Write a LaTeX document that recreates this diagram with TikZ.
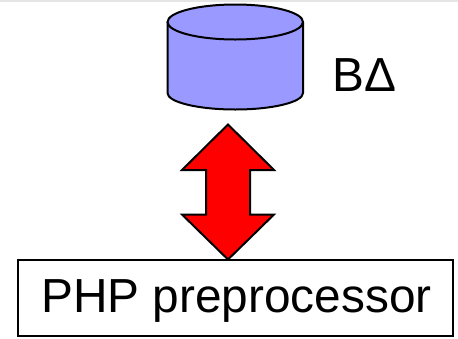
\documentclass[tikz,border=0pt]{standalone}
\usepackage{fontspec}
\setmainfont{Liberation Sans}
\usetikzlibrary{positioning}
\tikzstyle{box}=[draw=black,line width=2pt,fill=white,minimum width=435pt,minimum height=76pt,inner sep=0pt]
\tikzstyle{label}=[inner sep=0pt,font=\fontsize{47.8pt}{48pt}\selectfont]
\tikzstyle{drum}=[draw=black,line width=2pt,fill={rgb,255:red,153;green,153;blue,255}]
\tikzstyle{updown}=[draw=black,line width=2pt,fill=red,line join=miter]
\begin{document}
\begin{tikzpicture}
  [x=1pt,y=-1pt]
\useasboundingbox (0,0) rectangle (458,338);
\fill[black!10] (0,0) rectangle (458,2);
\draw[drum] (167.5,22) -- (167.5,93) arc[start angle=180,end angle=360,x radius=67.75pt,y radius=16.5pt] -- (303,22);
\draw[drum] (235.25,22) ellipse[x radius=67.75pt,y radius=17.5pt];
\node[label] (db) at (364.5,75) {BΔ};
\draw[updown] (228,124.5) -- (274,170) -- (250,170) -- (250,214.5) -- (274,214.5)
  -- (228,259.5) -- (182,214.5) -- (206,214.5) -- (206,170) -- (182,170) -- cycle;
\node[box] (pre) at (235.5,298) {};
\node[label] (pretext) at (236.5,301) {PHP preprocessor};
\end{tikzpicture}
\end{document}
